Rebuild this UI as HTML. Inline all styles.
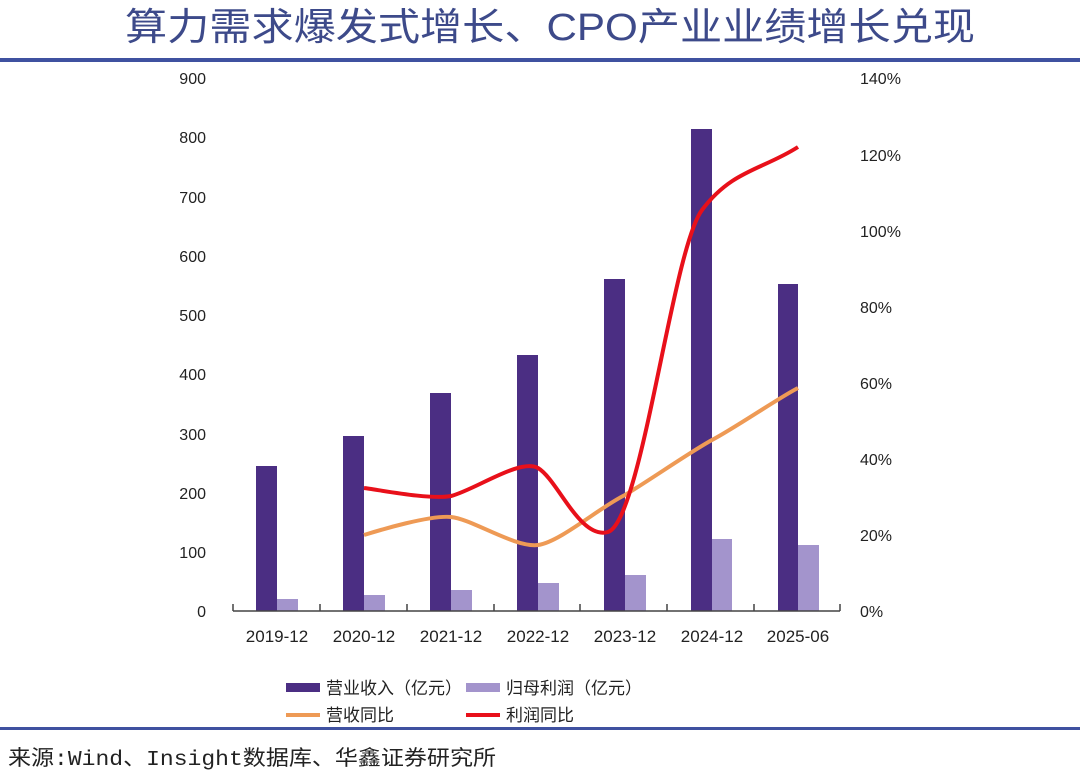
<!DOCTYPE html>
<html><head><meta charset="utf-8"><style>
body{margin:0;background:#fff;width:1080px;height:774px;overflow:hidden;font-family:"Liberation Sans","Noto Sans CJK SC",sans-serif}
</style></head><body>
<svg width="1080" height="774" xmlns="http://www.w3.org/2000/svg" style="position:absolute;left:0;top:0">
<text x="550" y="40" text-anchor="middle" font-size="38" fill="#3d4a8a" font-family="Liberation Sans,Noto Sans CJK SC,sans-serif" textLength="850" lengthAdjust="spacingAndGlyphs">算力需求爆发式增长、CPO产业业绩增长兑现</text>
<rect x="0" y="58" width="1080" height="4" fill="#3f51a0"/>
<rect x="0" y="727" width="1080" height="3" fill="#3f51a0"/>
<g font-size="16" fill="#222" text-anchor="end">
<text x="206" y="617">0</text><text x="206" y="558">100</text><text x="206" y="499">200</text><text x="206" y="440">300</text><text x="206" y="380">400</text><text x="206" y="321">500</text><text x="206" y="262">600</text><text x="206" y="203">700</text><text x="206" y="143">800</text><text x="206" y="84">900</text>
</g>
<g font-size="16" fill="#222">
<text x="860" y="617">0%</text><text x="860" y="541">20%</text><text x="860" y="465">40%</text><text x="860" y="389">60%</text><text x="860" y="313">80%</text><text x="860" y="237">100%</text><text x="860" y="161">120%</text><text x="860" y="84">140%</text>
</g>
<g fill="#4b2e83">
<rect x="256" y="466" width="21" height="145"/><rect x="343" y="436" width="21" height="175"/><rect x="430" y="393" width="21" height="218"/><rect x="517" y="355" width="21" height="256"/><rect x="604" y="279" width="21" height="332"/><rect x="691" y="129" width="21" height="482"/><rect x="778" y="284" width="20" height="327"/>
</g>
<g fill="#a394cc">
<rect x="277" y="599" width="21" height="12"/><rect x="364" y="595" width="21" height="16"/><rect x="451" y="590" width="21" height="21"/><rect x="538" y="583" width="21" height="28"/><rect x="625" y="575" width="21" height="36"/><rect x="712" y="539" width="20" height="72"/><rect x="798" y="545" width="21" height="66"/>
</g>
<path d="M233 611H840" stroke="#444" stroke-width="1.5"/>
<g stroke="#444" stroke-width="1.5"><path d="M233 604v7M320 604v7M407 604v7M494 604v7M580 604v7M667 604v7M754 604v7M840 604v7"/></g>
<path d="M364 535 C380 530 430 515 451 517 C472 519 515 548 538 545 C560 542 600 507 625 495 C650 480 690 452 712 440 C735 428 780 397 798 388" fill="none" stroke="#ee9a55" stroke-width="4"/>
<path d="M364 488 C380 490 430 500 451 496 C475 490 520 458 538 468 C558 480 580 540 608 532 C642 520 672 250 702 210 C732 170 762 170 798 147" fill="none" stroke="#e8101a" stroke-width="4"/>
<g font-size="17" fill="#222" text-anchor="middle">
<text x="277" y="642">2019-12</text><text x="364" y="642">2020-12</text><text x="451" y="642">2021-12</text><text x="538" y="642">2022-12</text><text x="625" y="642">2023-12</text><text x="712" y="642">2024-12</text><text x="798" y="642">2025-06</text>
</g>
<rect x="286" y="683" width="34" height="9" fill="#4b2e83"/>
<text x="326" y="694" font-size="17" fill="#222">营业收入（亿元）</text>
<rect x="466" y="683" width="34" height="9" fill="#a394cc"/>
<text x="506" y="694" font-size="17" fill="#222">归母利润（亿元）</text>
<rect x="286" y="713" width="34" height="4" fill="#ee9a55"/>
<text x="326" y="721" font-size="17" fill="#222">营收同比</text>
<rect x="466" y="713" width="34" height="4" fill="#e8101a"/>
<text x="506" y="721" font-size="17" fill="#222">利润同比</text>
<text x="8" y="765" font-size="21" fill="#222" font-family="Liberation Mono,Noto Sans CJK SC,monospace" textLength="488" lengthAdjust="spacingAndGlyphs">来源:Wind、Insight数据库、华鑫证券研究所</text>
</svg>
</body></html>
